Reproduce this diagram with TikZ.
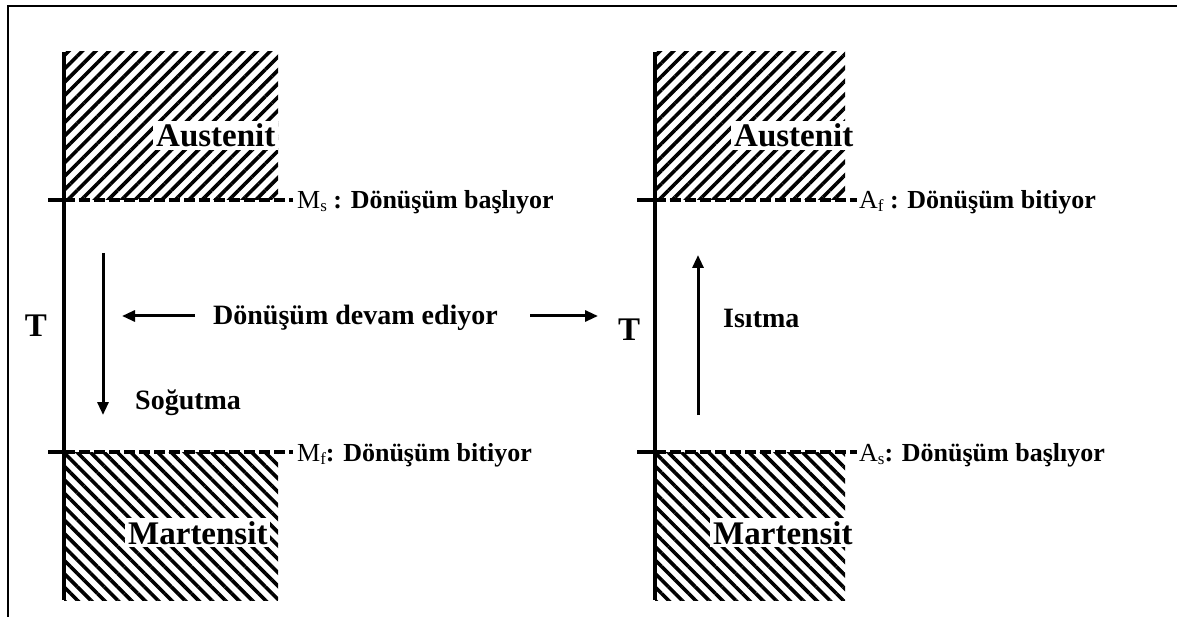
\documentclass[tikz,border=0pt]{standalone}
\usepackage{fontspec}
\setmainfont{Liberation Serif}
\usetikzlibrary{patterns.meta,arrows.meta}
\begin{document}
\begin{tikzpicture}[x=1pt,y=-1pt,
  axisline/.style={line width=3.5pt},
  lvl/.style={line width=3.5pt, dash pattern=on 11pt off 4pt},
  arr/.style={line width=3pt,-{Triangle[length=13pt,width=11pt]}},
  txt/.style={font=\fontsize{28}{30}\selectfont\bfseries, inner sep=0pt},
  region/.style={font=\fontsize{33}{36}\selectfont\bfseries, fill=white, inner sep=3pt},
  lbl/.style={font=\fontsize{26}{28}\selectfont, inner sep=0pt, anchor=base west},
  hatchA/.style={pattern={Lines[angle=45,distance=9.5pt,line width=3.6pt]}},
  hatchM/.style={pattern={Lines[angle=-45,distance=9.5pt,line width=3.6pt]}}]
\useasboundingbox (0,0) rectangle (1177,617);
\draw[line width=2pt] (8,617) -- (8,6) -- (1177,6);

% ---------- left panel ----------
\fill[hatchA] (64,52) rectangle (278,200);
\fill[hatchM] (64,452) rectangle (278,600);
\coordinate (LaxT) at (64,52);
\coordinate (LaxB) at (64,600);
\draw[axisline] (LaxT) -- (LaxB);
\coordinate (Lms0) at (48,200); \coordinate (Lms1) at (64,200); \coordinate (Lms2) at (293,200);
\coordinate (Lmf0) at (48,452); \coordinate (Lmf1) at (64,452); \coordinate (Lmf2) at (293,452);
\draw[axisline] (Lms0) -- (Lms1);
\draw[lvl] (Lms1) -- (Lms2);
\draw[axisline] (Lmf0) -- (Lmf1);
\draw[lvl] (Lmf1) -- (Lmf2);
\node[region, anchor=base west] (LA) at (153,147) {Austenit};
\node[region, anchor=base west] (LM) at (125,544) {Martensit};
\node[lbl] (ms) at (297,209) {M\raisebox{-3pt}{\fontsize{17}{17}\selectfont s}\textbf{ : Dönüşüm başlıyor}};
\node[lbl] (mf) at (297,461) {M\raisebox{-3pt}{\fontsize{17}{17}\selectfont f}\textbf{: Dönüşüm bitiyor}};
\node[font=\fontsize{33}{36}\selectfont\bfseries, inner sep=0pt, anchor=base] (LT) at (36,337) {T};
\coordinate (cool1) at (103,253); \coordinate (cool2) at (103,415);
\draw[arr] (cool1) -- (cool2);
\node[txt, anchor=base west] (sog) at (135,409) {Soğutma};
\node[txt, anchor=base west] (dev) at (213,325) {Dönüşüm devam ediyor};
\coordinate (la1) at (195,316); \coordinate (la2) at (122,316);
\coordinate (ra1) at (530,316); \coordinate (ra2) at (598,316);
\draw[arr] (la1) -- (la2);
\draw[arr] (ra1) -- (ra2);

% ---------- right panel ----------
\fill[hatchA] (655,52) rectangle (845,200);
\fill[hatchM] (655,452) rectangle (845,600);
\coordinate (RaxT) at (655,52);
\coordinate (RaxB) at (655,600);
\draw[axisline] (RaxT) -- (RaxB);
\coordinate (Raf0) at (637,200); \coordinate (Raf1) at (655,200); \coordinate (Raf2) at (857,200);
\coordinate (Ras0) at (637,452); \coordinate (Ras1) at (655,452); \coordinate (Ras2) at (857,452);
\draw[axisline] (Raf0) -- (Raf1);
\draw[lvl] (Raf1) -- (Raf2);
\draw[axisline] (Ras0) -- (Ras1);
\draw[lvl] (Ras1) -- (Ras2);
\node[region, anchor=base west] (RA) at (731,147) {Austenit};
\node[region, anchor=base west] (RM) at (710,544) {Martensit};
\node[lbl] (af) at (859,209) {A\raisebox{-3pt}{\fontsize{17}{17}\selectfont f}\textbf{ : Dönüşüm bitiyor}};
\node[lbl] (as) at (859,461) {A\raisebox{-3pt}{\fontsize{17}{17}\selectfont s}\textbf{: Dönüşüm başlıyor}};
\node[font=\fontsize{33}{36}\selectfont\bfseries, inner sep=0pt, anchor=base] (RT) at (629,341) {T};
\coordinate (heat1) at (698,415); \coordinate (heat2) at (698,255);
\draw[arr] (heat1) -- (heat2);
\node[txt, anchor=base west] (isi) at (723,327) {Isıtma};
\end{tikzpicture}
\end{document}
